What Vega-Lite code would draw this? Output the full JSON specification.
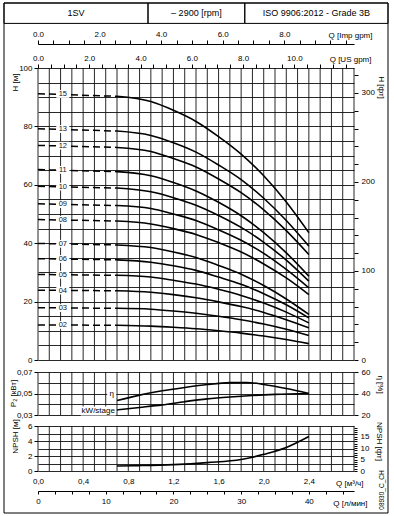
{
  "$schema": "https://vega.github.io/schema/vega-lite/v6.json",
  "width": 316,
  "height": 403,
  "autosize": {"type": "none"},
  "padding": {"left": 38, "top": 68, "right": 40, "bottom": 45},
  "background": "white",
  "config": {
    "view": {"stroke": null},
    "font": "Liberation Sans",
    "text": {"font": "Liberation Sans"},
    "axis": {
      "labelFont": "Liberation Sans", "titleFont": "Liberation Sans",
      "labelFontSize": 8, "titleFontSize": 8, "titleFontWeight": "normal",
      "labelColor": "black", "titleColor": "black", "tickColor": "black",
      "domainColor": "black", "gridColor": "#111", "gridWidth": 0.9,
      "labelFlush": false, "labelOverlap": false, "grid": false
    }
  },
  "datasets": {
    "qgrid": [{"q":0},{"q":0.1},{"q":0.2},{"q":0.3},{"q":0.4},{"q":0.5},{"q":0.6},{"q":0.7},{"q":0.8},{"q":0.9},{"q":1.0},{"q":1.1},{"q":1.2},{"q":1.3},{"q":1.4},{"q":1.5},{"q":1.6},{"q":1.7},{"q":1.8},{"q":1.9},{"q":2.0},{"q":2.1},{"q":2.2},{"q":2.3},{"q":2.4},{"q":2.5},{"q":2.6},{"q":2.7},{"q":2.8}],
    "frame": [{"x1":0,"x2":100,"y1":0,"y2":100},{"x1":0,"x2":37.5,"y1":96,"y2":100},{"x1":37.5,"x2":62.7,"y1":96,"y2":100},{"x1":62.7,"x2":100,"y1":96,"y2":100}],
    "htext": [{"x":18.75,"y":98,"t":"1SV"},{"x":50.1,"y":98,"t":"– 2900 [rpm]"},{"x":81.35,"y":98,"t":"ISO 9906:2012 - Grade 3B"}],
    "code": [{"x":98.4,"y":4.5,"t":"08930_C_CH"}],
    "one": [{"v":0}],
    "dash": [
      {"n":"15","q":0,"h":91.2},{"n":"15","q":0.7,"h":90.3},
      {"n":"13","q":0,"h":79.2},{"n":"13","q":0.7,"h":78.4},
      {"n":"12","q":0,"h":73.5},{"n":"12","q":0.7,"h":72.8},
      {"n":"11","q":0,"h":65.2},{"n":"11","q":0.7,"h":64.5},
      {"n":"10","q":0,"h":59.5},{"n":"10","q":0.7,"h":58.9},
      {"n":"09","q":0,"h":53.5},{"n":"09","q":0.7,"h":52.9},
      {"n":"08","q":0,"h":48.1},{"n":"08","q":0.7,"h":47.6},
      {"n":"07","q":0,"h":39.9},{"n":"07","q":0.7,"h":39.4},
      {"n":"06","q":0,"h":34.7},{"n":"06","q":0.7,"h":34.3},
      {"n":"05","q":0,"h":29.3},{"n":"05","q":0.7,"h":29.0},
      {"n":"04","q":0,"h":23.9},{"n":"04","q":0.7,"h":23.7},
      {"n":"03","q":0,"h":17.9},{"n":"03","q":0.7,"h":17.7},
      {"n":"02","q":0,"h":12.0},{"n":"02","q":0.7,"h":11.9}
    ],
    "solid": [
      {"n":"15","q":0.7,"h":90.3},{"n":"15","q":1.0,"h":88.5},{"n":"15","q":1.2,"h":85.5},{"n":"15","q":1.4,"h":81.7},{"n":"15","q":1.6,"h":76.5},{"n":"15","q":1.8,"h":70.5},{"n":"15","q":2.0,"h":63.1},{"n":"15","q":2.2,"h":54.1},{"n":"15","q":2.4,"h":43.6},
      {"n":"13","q":0.7,"h":78.4},{"n":"13","q":1.0,"h":76.9},{"n":"13","q":1.2,"h":74.4},{"n":"13","q":1.4,"h":71.2},{"n":"13","q":1.6,"h":66.8},{"n":"13","q":1.8,"h":61.8},{"n":"13","q":2.0,"h":55.4},{"n":"13","q":2.2,"h":47.8},{"n":"13","q":2.4,"h":39.0},
      {"n":"12","q":0.7,"h":72.8},{"n":"12","q":1.0,"h":71.4},{"n":"12","q":1.2,"h":69.0},{"n":"12","q":1.4,"h":66.1},{"n":"12","q":1.6,"h":62.0},{"n":"12","q":1.8,"h":57.3},{"n":"12","q":2.0,"h":51.4},{"n":"12","q":2.2,"h":44.3},{"n":"12","q":2.4,"h":36.1},
      {"n":"11","q":0.7,"h":64.5},{"n":"11","q":1.0,"h":63.1},{"n":"11","q":1.2,"h":60.8},{"n":"11","q":1.4,"h":57.9},{"n":"11","q":1.6,"h":54.0},{"n":"11","q":1.8,"h":49.4},{"n":"11","q":2.0,"h":43.6},{"n":"11","q":2.2,"h":36.7},{"n":"11","q":2.4,"h":28.7},
      {"n":"10","q":0.7,"h":58.9},{"n":"10","q":1.0,"h":57.6},{"n":"10","q":1.2,"h":55.6},{"n":"10","q":1.4,"h":53.0},{"n":"10","q":1.6,"h":49.5},{"n":"10","q":1.8,"h":45.4},{"n":"10","q":2.0,"h":40.3},{"n":"10","q":2.2,"h":34.2},{"n":"10","q":2.4,"h":27.0},
      {"n":"09","q":0.7,"h":52.9},{"n":"09","q":1.0,"h":51.9},{"n":"09","q":1.2,"h":50.0},{"n":"09","q":1.4,"h":47.8},{"n":"09","q":1.6,"h":44.6},{"n":"09","q":1.8,"h":41.0},{"n":"09","q":2.0,"h":36.5},{"n":"09","q":2.2,"h":31.0},{"n":"09","q":2.4,"h":24.7},
      {"n":"08","q":0.7,"h":47.6},{"n":"08","q":1.0,"h":46.6},{"n":"08","q":1.2,"h":45.0},{"n":"08","q":1.4,"h":43.0},{"n":"08","q":1.6,"h":40.2},{"n":"08","q":1.8,"h":37.0},{"n":"08","q":2.0,"h":32.9},{"n":"08","q":2.2,"h":28.1},{"n":"08","q":2.4,"h":22.4},
      {"n":"07","q":0.7,"h":39.4},{"n":"07","q":1.0,"h":38.5},{"n":"07","q":1.2,"h":37.0},{"n":"07","q":1.4,"h":35.1},{"n":"07","q":1.6,"h":32.4},{"n":"07","q":1.8,"h":29.4},{"n":"07","q":2.0,"h":25.5},{"n":"07","q":2.2,"h":20.9},{"n":"07","q":2.4,"h":15.6},
      {"n":"06","q":0.7,"h":34.3},{"n":"06","q":1.0,"h":33.5},{"n":"06","q":1.2,"h":32.3},{"n":"06","q":1.4,"h":30.7},{"n":"06","q":1.6,"h":28.4},{"n":"06","q":1.8,"h":25.9},{"n":"06","q":2.0,"h":22.7},{"n":"06","q":2.2,"h":18.9},{"n":"06","q":2.4,"h":14.4},
      {"n":"05","q":0.7,"h":29.0},{"n":"05","q":1.0,"h":28.4},{"n":"05","q":1.2,"h":27.3},{"n":"05","q":1.4,"h":26.0},{"n":"05","q":1.6,"h":24.2},{"n":"05","q":1.8,"h":22.1},{"n":"05","q":2.0,"h":19.5},{"n":"05","q":2.2,"h":16.4},{"n":"05","q":2.4,"h":12.7},
      {"n":"04","q":0.7,"h":23.7},{"n":"04","q":1.0,"h":23.2},{"n":"04","q":1.2,"h":22.4},{"n":"04","q":1.4,"h":21.3},{"n":"04","q":1.6,"h":19.9},{"n":"04","q":1.8,"h":18.3},{"n":"04","q":2.0,"h":16.3},{"n":"04","q":2.2,"h":13.8},{"n":"04","q":2.4,"h":11.0},
      {"n":"03","q":0.7,"h":17.7},{"n":"03","q":1.0,"h":17.4},{"n":"03","q":1.2,"h":16.8},{"n":"03","q":1.4,"h":16.0},{"n":"03","q":1.6,"h":15.0},{"n":"03","q":1.8,"h":13.8},{"n":"03","q":2.0,"h":12.3},{"n":"03","q":2.2,"h":10.5},{"n":"03","q":2.4,"h":8.4},
      {"n":"02","q":0.7,"h":11.9},{"n":"02","q":1.0,"h":11.6},{"n":"02","q":1.2,"h":11.2},{"n":"02","q":1.4,"h":10.7},{"n":"02","q":1.6,"h":10.0},{"n":"02","q":1.8,"h":9.2},{"n":"02","q":2.0,"h":8.2},{"n":"02","q":2.2,"h":7.0},{"n":"02","q":2.4,"h":5.6}
    ],
    "lab": [
      {"n":"15","q":0.22,"h":91.1},{"n":"13","q":0.22,"h":79.1},{"n":"12","q":0.22,"h":73.4},{"n":"11","q":0.22,"h":65.1},{"n":"10","q":0.22,"h":59.4},{"n":"09","q":0.22,"h":53.4},{"n":"08","q":0.22,"h":48.0},{"n":"07","q":0.22,"h":39.8},{"n":"06","q":0.22,"h":34.6},{"n":"05","q":0.22,"h":29.2},{"n":"04","q":0.22,"h":23.8},{"n":"03","q":0.22,"h":17.8},{"n":"02","q":0.22,"h":12.0}
    ],
    "kw": [{"q":0.7,"p":0.0347},{"q":0.9,"p":0.0370},{"q":1.1,"p":0.0394},{"q":1.3,"p":0.0424},{"q":1.5,"p":0.0450},{"q":1.7,"p":0.0468},{"q":1.9,"p":0.0482},{"q":2.1,"p":0.0492},{"q":2.4,"p":0.0500}],
    "eta": [{"q":0.7,"e":33.4},{"q":0.9,"e":38.5},{"q":1.1,"e":42.5},{"q":1.3,"e":45.6},{"q":1.5,"e":48.3},{"q":1.7,"e":50.1},{"q":1.85,"e":50.3},{"q":2.0,"e":48.4},{"q":2.2,"e":44.6},{"q":2.4,"e":40.0}],
    "npsh": [{"q":0.7,"v":0.67},{"q":0.9,"v":0.72},{"q":1.2,"v":0.85},{"q":1.5,"v":1.12},{"q":1.8,"v":1.53},{"q":1.9,"v":1.84},{"q":2.0,"v":2.22},{"q":2.2,"v":3.14},{"q":2.4,"v":4.6}],
    "kwlab": [{"q":0.534,"p":0.0337,"t":"kW/stage"}],
    "etalab": [{"q":0.653,"e":39.6,"t":"η"}]
  },
  "resolve": {
    "scale": {"x": "independent", "y": "independent"},
    "axis": {"x": "independent", "y": "independent"}
  },
  "layer": [
    {
      "data": {"name": "frame"},
      "mark": {"type": "rect", "fillOpacity": 0, "stroke": "black", "strokeWidth": 1},
      "encoding": {
        "x": {"field": "x1", "type": "quantitative", "scale": {"domain": [0, 100], "range": [-34, 350], "nice": false}, "axis": null},
        "x2": {"field": "x2"},
        "y": {"field": "y1", "type": "quantitative", "scale": {"domain": [0, 100], "range": [445, -65], "nice": false}, "axis": null},
        "y2": {"field": "y2"}
      }
    },
    {
      "data": {"name": "htext"},
      "mark": {"type": "text", "fontSize": 9, "color": "black", "baseline": "middle"},
      "encoding": {
        "x": {"field": "x", "type": "quantitative", "scale": {"domain": [0, 100], "range": [-34, 350], "nice": false}, "axis": null},
        "y": {"field": "y", "type": "quantitative", "scale": {"domain": [0, 100], "range": [445, -65], "nice": false}, "axis": null},
        "text": {"field": "t"}
      }
    },
    {
      "data": {"name": "code"},
      "mark": {"type": "text", "fontSize": 6.5, "color": "black", "angle": 270, "baseline": "middle"},
      "encoding": {
        "x": {"field": "x", "type": "quantitative", "scale": {"domain": [0, 100], "range": [-34, 350], "nice": false}, "axis": null},
        "y": {"field": "y", "type": "quantitative", "scale": {"domain": [0, 100], "range": [445, -65], "nice": false}, "axis": null},
        "text": {"field": "t"}
      }
    },
    {
      "data": {"name": "qgrid"},
      "mark": {"type": "rule", "color": "#111", "strokeWidth": 0.9},
      "encoding": {
        "x": {"field": "q", "type": "quantitative", "scale": {"domain": [0, 2.8], "nice": false}, "axis": null},
        "y": {"datum": 0, "type": "quantitative", "scale": {"domain": [0, 100], "range": [292, 0], "nice": false},
          "axis": {"orient": "left", "values": [0,5,10,15,20,25,30,35,40,45,50,55,60,65,70,75,80,85,90,95,100],
            "grid": true, "domain": false, "tickSize": 4, "labelPadding": 2,
            "tickOpacity": {"condition": {"test": "datum.value % 20 === 0", "value": 1}, "value": 0},
            "labelExpr": "datum.value % 20 === 0 ? datum.label : ''",
            "title": "H [м]", "titleX": -23, "titleY": 14, "titleAngle": 270, "titleAlign": "center", "titleBaseline": "middle"}},
        "y2": {"datum": 100}
      }
    },
    {
      "data": {"name": "one"},
      "mark": {"type": "point", "opacity": 0},
      "encoding": {
        "y": {"field": "v", "type": "quantitative", "scale": {"domain": [0, 328.08], "range": [292, 0], "nice": false},
          "axis": {"orient": "right", "values": [0,20,40,60,80,100,120,140,160,180,200,220,240,260,280,300,320],
            "domain": false, "tickSize": 4, "labelPadding": 3,
            "labelExpr": "datum.value % 100 === 0 ? datum.label : ''",
            "title": "H [фт]", "titleX": 26, "titleY": 19, "titleAngle": 90, "titleAlign": "center", "titleBaseline": "middle"}}
      }
    },
    {
      "data": {"name": "dash"},
      "mark": {"type": "line", "color": "black", "strokeWidth": 1.5, "strokeDash": [7, 4]},
      "encoding": {
        "x": {"field": "q", "type": "quantitative", "scale": {"domain": [0, 2.8], "nice": false}, "axis": null},
        "y": {"field": "h", "type": "quantitative", "scale": {"domain": [0, 100], "range": [292, 0], "nice": false}, "axis": null},
        "detail": {"field": "n"}
      }
    },
    {
      "data": {"name": "solid"},
      "mark": {"type": "line", "color": "black", "strokeWidth": 1.6, "interpolate": "monotone"},
      "encoding": {
        "x": {"field": "q", "type": "quantitative", "scale": {"domain": [0, 2.8], "nice": false}, "axis": null},
        "y": {"field": "h", "type": "quantitative", "scale": {"domain": [0, 100], "range": [292, 0], "nice": false}, "axis": null},
        "detail": {"field": "n"}
      }
    },
    {
      "data": {"name": "lab"},
      "mark": {"type": "point", "shape": "M-1,-0.6L1,-0.6L1,0.6L-1,0.6Z", "size": 169, "filled": true, "fill": "white", "opacity": 1, "strokeWidth": 0},
      "encoding": {
        "x": {"field": "q", "type": "quantitative", "scale": {"domain": [0, 2.8], "nice": false}, "axis": null},
        "y": {"field": "h", "type": "quantitative", "scale": {"domain": [0, 100], "range": [292, 0], "nice": false}, "axis": null}
      }
    },
    {
      "data": {"name": "lab"},
      "mark": {"type": "text", "fontSize": 7.5, "color": "#111", "baseline": "middle"},
      "encoding": {
        "x": {"field": "q", "type": "quantitative", "scale": {"domain": [0, 2.8], "nice": false}, "axis": null},
        "y": {"field": "h", "type": "quantitative", "scale": {"domain": [0, 100], "range": [292, 0], "nice": false}, "axis": null},
        "text": {"field": "n"}
      }
    },
    {
      "data": {"name": "qgrid"},
      "mark": {"type": "rule", "color": "#111", "strokeWidth": 0.9},
      "encoding": {
        "x": {"field": "q", "type": "quantitative", "scale": {"domain": [0, 2.8], "nice": false}, "axis": null},
        "y": {"datum": 0.03, "type": "quantitative", "scale": {"domain": [0.03, 0.07], "range": [347, 304], "nice": false, "zero": false},
          "axis": {"orient": "left", "values": [0.03, 0.04, 0.05, 0.06, 0.07],
            "grid": true, "domain": false, "tickSize": 4, "labelPadding": 2,
            "tickOpacity": {"condition": {"test": "round(datum.value * 100) % 2 === 1", "value": 1}, "value": 0},
            "labelExpr": "round(datum.value * 100) % 2 === 1 ? replace(format(datum.value, '.2f'), '.', ',') : ''",
            "title": "P₂ [кВт]", "titleX": -25, "titleY": 325, "titleAngle": 270, "titleAlign": "center", "titleBaseline": "middle"}},
        "y2": {"datum": 0.07}
      }
    },
    {
      "data": {"name": "kw"},
      "mark": {"type": "line", "color": "black", "strokeWidth": 1.6, "interpolate": "monotone"},
      "encoding": {
        "x": {"field": "q", "type": "quantitative", "scale": {"domain": [0, 2.8], "nice": false}, "axis": null},
        "y": {"field": "p", "type": "quantitative", "scale": {"domain": [0.03, 0.07], "range": [347, 304], "nice": false, "zero": false}, "axis": null}
      }
    },
    {
      "data": {"name": "eta"},
      "mark": {"type": "line", "color": "black", "strokeWidth": 1.6, "interpolate": "monotone"},
      "encoding": {
        "x": {"field": "q", "type": "quantitative", "scale": {"domain": [0, 2.8], "nice": false}, "axis": null},
        "y": {"field": "e", "type": "quantitative", "scale": {"domain": [20, 60], "range": [347, 304], "nice": false, "zero": false},
          "axis": {"orient": "right", "values": [20, 30, 40, 50, 60], "domain": false, "tickSize": 4, "labelPadding": 3,
            "tickOpacity": {"condition": {"test": "datum.value % 20 === 0", "value": 1}, "value": 0},
            "labelExpr": "datum.value % 20 === 0 ? datum.label : ''",
            "title": "η [%]", "titleX": 25, "titleY": 316, "titleAngle": 90, "titleAlign": "center", "titleBaseline": "middle"}}
      }
    },
    {
      "data": {"name": "kwlab"},
      "mark": {"type": "point", "shape": "M-1,-0.26L1,-0.26L1,0.26L-1,0.26Z", "size": 1225, "filled": true, "fill": "white", "opacity": 1, "strokeWidth": 0},
      "encoding": {
        "x": {"field": "q", "type": "quantitative", "scale": {"domain": [0, 2.8], "nice": false}, "axis": null},
        "y": {"field": "p", "type": "quantitative", "scale": {"domain": [0.03, 0.07], "range": [347, 304], "nice": false, "zero": false}, "axis": null}
      }
    },
    {
      "data": {"name": "kwlab"},
      "mark": {"type": "text", "fontSize": 8, "color": "black", "baseline": "middle"},
      "encoding": {
        "x": {"field": "q", "type": "quantitative", "scale": {"domain": [0, 2.8], "nice": false}, "axis": null},
        "y": {"field": "p", "type": "quantitative", "scale": {"domain": [0.03, 0.07], "range": [347, 304], "nice": false, "zero": false}, "axis": null},
        "text": {"field": "t"}
      }
    },
    {
      "data": {"name": "etalab"},
      "mark": {"type": "point", "shape": "M-1,-0.8L1,-0.8L1,0.8L-1,0.8Z", "size": 81, "filled": true, "fill": "white", "opacity": 1, "strokeWidth": 0},
      "encoding": {
        "x": {"field": "q", "type": "quantitative", "scale": {"domain": [0, 2.8], "nice": false}, "axis": null},
        "y": {"field": "e", "type": "quantitative", "scale": {"domain": [20, 60], "range": [347, 304], "nice": false, "zero": false}, "axis": null}
      }
    },
    {
      "data": {"name": "etalab"},
      "mark": {"type": "text", "fontSize": 8, "color": "black", "baseline": "middle"},
      "encoding": {
        "x": {"field": "q", "type": "quantitative", "scale": {"domain": [0, 2.8], "nice": false}, "axis": null},
        "y": {"field": "e", "type": "quantitative", "scale": {"domain": [20, 60], "range": [347, 304], "nice": false, "zero": false}, "axis": null},
        "text": {"field": "t"}
      }
    },
    {
      "data": {"name": "qgrid"},
      "mark": {"type": "rule", "color": "#111", "strokeWidth": 0.9},
      "encoding": {
        "x": {"field": "q", "type": "quantitative", "scale": {"domain": [0, 2.8], "nice": false},
          "axis": {"orient": "bottom", "values": [0, 0.4, 0.8, 1.2, 1.6, 2.0, 2.4], "ticks": false, "domain": false, "labelPadding": 6,
            "labelExpr": "replace(format(datum.value, '.1f'), '.', ',')",
            "title": "Q [м³/ч]", "titleX": 325, "titleY": 14.5, "titleAlign": "right", "titleBaseline": "alphabetic", "titleAngle": 0}},
        "y": {"datum": 0, "type": "quantitative", "scale": {"domain": [0, 6], "range": [403, 358], "nice": false},
          "axis": {"orient": "left", "values": [0, 1, 2, 3, 4, 5, 6],
            "grid": true, "domain": false, "tickSize": 4, "labelPadding": 2,
            "tickOpacity": {"condition": {"test": "datum.value % 2 === 0", "value": 1}, "value": 0},
            "labelExpr": "datum.value % 2 === 0 ? datum.label : ''",
            "title": "NPSH [м]", "titleX": -23, "titleY": 368, "titleAngle": 270, "titleAlign": "center", "titleBaseline": "middle"}},
        "y2": {"datum": 6}
      }
    },
    {
      "data": {"name": "npsh"},
      "mark": {"type": "line", "color": "black", "strokeWidth": 1.6, "interpolate": "monotone"},
      "encoding": {
        "x": {"field": "q", "type": "quantitative", "scale": {"domain": [0, 2.8], "nice": false}, "axis": null},
        "y": {"field": "v", "type": "quantitative", "scale": {"domain": [0, 6], "range": [403, 358], "nice": false}, "axis": null}
      }
    },
    {
      "data": {"name": "one"},
      "mark": {"type": "point", "opacity": 0},
      "encoding": {
        "y": {"field": "v", "type": "quantitative", "scale": {"domain": [0, 19.685], "range": [403, 358], "nice": false},
          "axis": {"orient": "right", "values": [0,1,2,3,4,5,6,7,8,9,10,11,12,13,14,15,16,17,18,19],
            "domain": false, "tickSize": 3, "labelPadding": 3,
            "labelExpr": "datum.value % 5 === 0 ? datum.label : ''",
            "title": "NPSH [фт]", "titleX": 24, "titleY": 373, "titleAngle": 90, "titleAlign": "center", "titleBaseline": "middle"}}
      }
    },
    {
      "data": {"name": "one"},
      "mark": {"type": "point", "opacity": 0},
      "encoding": {
        "x": {"field": "v", "type": "quantitative", "scale": {"domain": [0, 12.328], "nice": false},
          "axis": {"orient": "top", "offset": 0, "values": [0,0.5,1,1.5,2,2.5,3,3.5,4,4.5,5,5.5,6,6.5,7,7.5,8,8.5,9,9.5,10,10.5,11,11.5,12],
            "domain": false, "tickSize": 4, "labelPadding": 2,
            "labelExpr": "datum.value % 2 === 0 && datum.value <= 10 ? datum.label : ''",
            "title": "Q [US gpm]", "titleX": 333, "titleY": -7, "titleAlign": "right", "titleBaseline": "alphabetic", "titleAngle": 0}}
      }
    },
    {
      "data": {"name": "one"},
      "mark": {"type": "point", "opacity": 0},
      "encoding": {
        "x": {"field": "v", "type": "quantitative", "scale": {"domain": [0, 10.265], "nice": false},
          "axis": {"orient": "top", "offset": 24, "values": [0,0.5,1,1.5,2,2.5,3,3.5,4,4.5,5,5.5,6,6.5,7,7.5,8,8.5,9,9.5,10],
            "domain": true, "tickSize": 4, "labelPadding": 2,
            "labelExpr": "datum.value % 2 === 0 && datum.value <= 8 ? datum.label : ''",
            "title": "Q [Imp gpm]", "titleX": 334, "titleY": -7, "titleAlign": "right", "titleBaseline": "alphabetic", "titleAngle": 0}}
      }
    },
    {
      "data": {"name": "one"},
      "mark": {"type": "point", "opacity": 0},
      "encoding": {
        "x": {"field": "v", "type": "quantitative", "scale": {"domain": [0, 46.667], "nice": false},
          "axis": {"orient": "bottom", "offset": 20, "values": [0,2.5,5,7.5,10,12.5,15,17.5,20,22.5,25,27.5,30,32.5,35,37.5,40,42.5,45],
            "domain": true, "tickSize": 3, "labelPadding": 3,
            "labelExpr": "datum.value % 10 === 0 ? datum.label : ''",
            "title": "Q [л/мин]", "titleX": 329, "titleY": 14, "titleAlign": "right", "titleBaseline": "alphabetic", "titleAngle": 0}}
      }
    }
  ]
}
